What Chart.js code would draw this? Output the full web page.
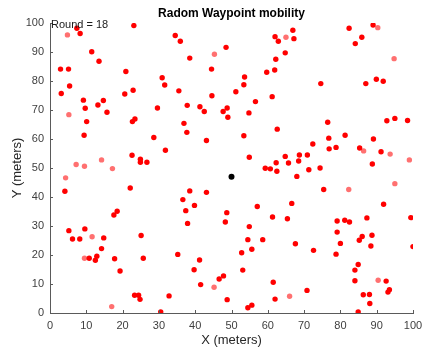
<!DOCTYPE html>
<html>
<head>
<meta charset="utf-8">
<script src="https://cdn.jsdelivr.net/npm/chart.js@4.4.1/dist/chart.umd.min.js"></script>
<style>
  html, body { margin: 0; padding: 0; background: #fff; }
  #wrap { width: 422px; height: 350px; }
</style>
</head>
<body>
<div id="wrap"><canvas id="mobilityChart"></canvas></div>
<script>
// Node positions (meters)
const nodeX = [7.4, 8.3, 23.1, 11.5, 13.5, 2.9, 5.1, 5.4, 3.1, 20.9, 30.9, 31.6, 20.6, 22.9, 9.2, 9.7, 13.2, 14.7, 15.7, 10.1,
  29.6, 22.7, 23.4, 34.5, 35.9, 62, 62.9, 48.5, 38.5, 64.8, 62.2, 44.5, 59.7, 61.9, 53.6, 53.4, 35.5, 51.2, 44.6, 61.2,
  56.6, 37.8, 41.3, 42.5, 48.8, 47.7, 49, 54.8, 36.9, 66.9, 67.2, 82.4, 89, 85.9, 84.1, 74.6, 87, 89.9, 91.8, 76.5,
  92.8, 95, 98.5, 9.4, 28.6, 31.8, 22.6, 24.9, 24.9, 26.7, 4.1, 22.1, 17.6, 18.5, 37.7, 43.1, 62.6, 53.4, 54.9, 64.8,
  62.3, 65.7, 59.3, 60.7, 62.5, 38.5, 43.1, 36.6, 39.8, 37.4, 57.1, 48.7, 48.3, 37.9, 61.3, 65.4, 76.8, 81.3, 89.1, 72.4,
  76.9, 78.8, 85.3, 91.2, 68.7, 70.9, 68.5, 71.3, 74.4, 88.8, 68, 75.4, 66.6, 91.9, 79.1, 81.2, 82.5, 87.3, 99.4, 5.2,
  6.2, 8.2, 9.6, 14.8, 14.2, 12.9, 12.5, 10.8, 17.8, 19.3, 25.1, 25.7, 23.3, 24.4, 24.8, 30.5, 32.8, 54.9, 54.5, 58.6,
  55.6, 52.8, 35.2, 41.2, 39.7, 53.1, 47.8, 46.6, 41.5, 61.5, 48.8, 54.5, 55.6, 62, 79.1, 80, 85.2, 86, 88.7, 88.4,
  67.6, 72.6, 78.8, 100, 84.9, 84, 84, 92.6, 93.5, 93.1, 70.8, 86.3, 88, 88.1, 84.9];
const nodeY = [98.2, 96.4, 99.1, 90.1, 86.8, 84.1, 84.1, 78.3, 75.7, 83.3, 81.1, 78.6, 75.5, 76.8, 73.4, 70.6, 71.7, 73.3, 69.2, 66,
  70.7, 66, 66.9, 95.7, 93.7, 95.3, 93.7, 91.6, 87.9, 89.7, 87.5, 84.1, 83, 83.8, 81.4, 78.7, 76.6, 76.3, 74.9, 74.6,
  72.9, 71.6, 71.1, 69.5, 70.7, 69.5, 67.5, 69, 65.4, 97.5, 94.6, 98.2, 99.3, 95.1, 92.9, 79.1, 79.1, 80.6, 79.9, 65.8,
  66.3, 67.1, 66.4, 61.3, 60.5, 56.1, 54.4, 53, 52, 52, 42, 43.1, 33.8, 35.1, 62.3, 59.5, 63.4, 61.1, 53.7, 54,
  51.8, 51.7, 49.9, 49.7, 48.9, 42.1, 41.6, 39.1, 37.1, 35.3, 36.7, 34.6, 31.4, 30.9, 33.1, 32.5, 60.3, 61.3, 60, 58.3,
  56.6, 57.1, 56.9, 55.6, 54.5, 54.5, 52.4, 49.4, 50, 51.4, 47.1, 42.6, 37.8, 37.5, 31.7, 32, 31.4, 32.8, 32.9, 28.4,
  25.5, 25.5, 29, 25.9, 22.2, 19.6, 18.2, 18.9, 18.7, 14.5, 26.7, 18.9, 6.1, 6.1, 4.7, 0.4, 5.9, 29.8, 25.3, 25.3,
  22, 20.8, 20.2, 18.3, 14.9, 14.8, 12.8, 11.7, 9.8, 10.6, 4.6, 1.8, 2.7, 4.8, 27.9, 24, 25.1, 26.4, 26.8, 23.1,
  23.9, 21.6, 20.3, 22.9, 16.7, 14.8, 11.1, 11, 8, 7.2, 7.8, 6.3, 6.4, 3.3, 0.4];

// Paler nodes
const fadedX = [4.8, 45.3, 65, 90.3, 94.8, 5.2, 14.2, 7.2, 9.5, 17.2, 4.3, 86.4, 93.7, 99, 82.3, 95, 11.6, 9.5, 17, 45.2, 66, 90.4];
const fadedY = [95.9, 89.2, 95.1, 98.4, 87.7, 68.4, 52.8, 51.2, 50.6, 49.8, 46.6, 55.9, 54.8, 52.8, 42.6, 44.6, 26.3, 18.9, 2.2, 8.9, 5.8, 11.3];

// Center node
const sinkX = [50];
const sinkY = [47];

const roundLabel = 'Round = 18';
const axisTicks = [0, 10, 20, 30, 40, 50, 60, 70, 80, 90, 100];

const toPoints = (xs, ys) => xs.map((x, i) => ({ x: x, y: ys[i] }));

const fontFamily = '"Liberation Sans", Arial, sans-serif';
const axisGray = '#5a5a5a';
const labelGray = '#404040';

// inward tick marks + round label, MATLAB style
const matlabAxes = {
  id: 'matlabAxes',
  afterDraw(chart) {
    const { ctx, scales: { x, y } } = chart;
    ctx.save();
    ctx.strokeStyle = axisGray;
    ctx.lineWidth = 1;
    ctx.beginPath();
    axisTicks.forEach(v => {
      const px = Math.round(x.getPixelForValue(v)) + 0.5;
      ctx.moveTo(px, y.bottom);
      ctx.lineTo(px, y.bottom - 3);
      const py = Math.round(y.getPixelForValue(v)) + 0.5;
      ctx.moveTo(x.left, py);
      ctx.lineTo(x.left + 3, py);
    });
    ctx.stroke();

    ctx.fillStyle = '#1a1a1a';
    ctx.font = '11px ' + fontFamily;
    ctx.textBaseline = 'middle';
    ctx.textAlign = 'left';
    ctx.fillText(roundLabel, x.getPixelForValue(0) + 1, y.getPixelForValue(100) + 2);
    ctx.restore();
  }
};

new Chart(document.getElementById('mobilityChart'), {
  type: 'scatter',
  data: {
    datasets: [
      {
        label: 'nodes',
        data: toPoints(nodeX, nodeY),
        backgroundColor: '#ff0000',
        borderWidth: 0,
        pointRadius: 2.7
      },
      {
        label: 'faded',
        data: toPoints(fadedX, fadedY),
        backgroundColor: '#ff7070',
        borderWidth: 0,
        pointRadius: 2.7
      },
      {
        label: 'center',
        data: toPoints(sinkX, sinkY),
        backgroundColor: '#000000',
        borderWidth: 0,
        pointRadius: 3
      }
    ]
  },
  options: {
    responsive: true,
    maintainAspectRatio: false,
    animation: false,
    events: [],
    layout: { padding: { left: 0, right: 9, top: 0, bottom: 0 } },
    plugins: {
      legend: { display: false },
      tooltip: { enabled: false },
      title: {
        display: true,
        text: 'Radom Waypoint mobility',
        fullSize: false,
        color: '#000',
        font: { family: fontFamily, size: 12, weight: 'bold' },
        padding: { top: 6, bottom: 2.6 }
      }
    },
    scales: {
      x: {
        type: 'linear',
        min: 0,
        max: 100,
        afterBuildTicks: s => { s.ticks = axisTicks.map(v => ({ value: v })); },
        afterFit: s => { s.height = 37; s.paddingLeft = 0; s.paddingRight = 0; },
        grid: { drawOnChartArea: false, drawTicks: false },
        border: { display: true, color: axisGray, width: 1 },
        ticks: { color: labelGray, padding: 6, maxRotation: 0, font: { family: fontFamily, size: 11 } },
        title: {
          display: true,
          text: 'X (meters)',
          color: '#262626',
          font: { family: fontFamily, size: 13 },
          padding: { top: 0, bottom: 2 }
        }
      },
      y: {
        type: 'linear',
        min: 0,
        max: 100,
        afterBuildTicks: s => { s.ticks = axisTicks.map(v => ({ value: v })); },
        afterFit: s => { s.width = 50; s.paddingTop = 0; s.paddingBottom = 0; },
        grid: { drawOnChartArea: false, drawTicks: false },
        border: { display: true, color: axisGray, width: 1 },
        ticks: { color: labelGray, padding: 6, font: { family: fontFamily, size: 11 } },
        title: {
          display: true,
          text: 'Y (meters)',
          color: '#262626',
          font: { family: fontFamily, size: 13 },
          padding: { top: 10, bottom: 0 }
        }
      }
    }
  },
  plugins: [matlabAxes]
});
</script>
</body>
</html>
